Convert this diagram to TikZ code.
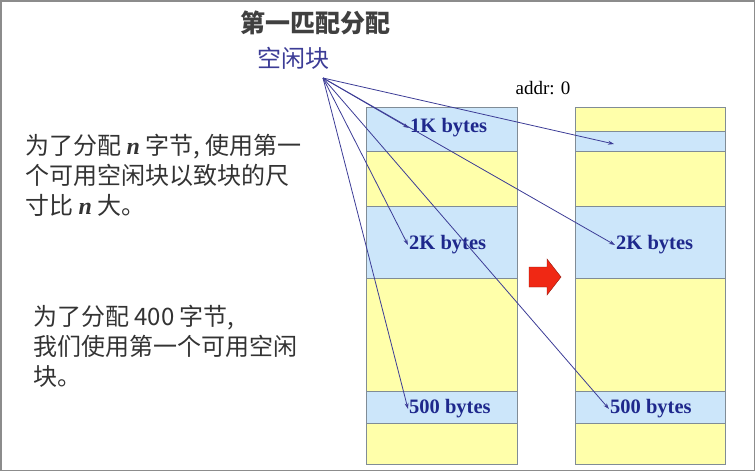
\documentclass[tikz,border=0pt]{standalone}
\usepackage{fontspec}
\setmainfont{Liberation Serif}
\newfontfamily\cjk{Noto Sans CJK SC}
\usetikzlibrary{arrows.meta}
\definecolor{memblue}{RGB}{204,230,250}
\definecolor{memyellow}{RGB}{255,255,170}
\definecolor{memline}{RGB}{128,140,150}
\definecolor{lblblue}{RGB}{30,40,140}
\definecolor{ptrblue}{RGB}{60,60,150}
\definecolor{movered}{RGB}{240,40,20}

\begin{document}
\begin{tikzpicture}[x=1pt, y=-1pt,
    seg/.style={draw=memline, line width=1.2pt, inner sep=0pt, anchor=north west},
    freeseg/.style={seg, fill=memblue},
    usedseg/.style={seg, fill=memyellow},
    lbl/.style={text=lblblue, font=\fontsize{20.5}{20.5}\selectfont\bfseries, anchor=west, inner sep=1pt},
    para/.style={anchor=north west, inner sep=0pt, align=left, text=black!80, font=\cjk\fontsize{24}{30}\selectfont},
    ptr/.style={ptrblue, line width=0.8pt, -{Stealth[length=6pt, width=4pt]}}]
    \useasboundingbox (0,0) rectangle (755,471);
    \draw[black!45, line width=1.5pt] (0.75,0.75) rectangle (754.25,470.25);
    \node [text=black!75, font=\cjk\fontsize{25}{25}\selectfont\bfseries] (title) at (315,23) {第一匹配分配};
    \node [text=ptrblue, font=\cjk\fontsize{24}{24}\selectfont] (free) at (293,58) {空闲块};
    \coordinate (src) at (323,78);
    \node [font=\fontsize{19}{19}\selectfont] (addr) at (543,88) {addr: 0};
    \node [para] (rule) at (25,134) {为了分配 {\normalfont\bfseries\itshape n} 字节, 使用第一\\个可用空闲块以致块的尺\\寸比 {\normalfont\bfseries\itshape n} 大。};
    \node [para] (case) at (33,305) {为了分配 400 字节,\\我们使用第一个可用空闲\\块。};
    \node [freeseg, minimum width=151pt, minimum height=44pt] (a1) at (366,107) {};
    \node [usedseg, minimum width=151pt, minimum height=55pt] (a2) at (366,151) {};
    \node [freeseg, minimum width=151pt, minimum height=72pt] (a3) at (366,206) {};
    \node [usedseg, minimum width=151pt, minimum height=113pt] (a4) at (366,278) {};
    \node [freeseg, minimum width=151pt, minimum height=32pt] (a5) at (366,391) {};
    \node [usedseg, minimum width=151pt, minimum height=41pt] (a6) at (366,423) {};
    \node [usedseg, minimum width=150pt, minimum height=24pt] (b0) at (575,107) {};
    \node [freeseg, minimum width=150pt, minimum height=20pt] (b1) at (575,131) {};
    \node [usedseg, minimum width=150pt, minimum height=55pt] (b2) at (575,151) {};
    \node [freeseg, minimum width=150pt, minimum height=72pt] (b3) at (575,206) {};
    \node [usedseg, minimum width=150pt, minimum height=113pt] (b4) at (575,278) {};
    \node [freeseg, minimum width=150pt, minimum height=32pt] (b5) at (575,391) {};
    \node [usedseg, minimum width=150pt, minimum height=41pt] (b6) at (575,423) {};
    \node [lbl] (k1) at (409,128) {1K bytes};
    \node [lbl] (k2a) at (408,245) {2K bytes};
    \node [lbl] (k2b) at (615,245) {2K bytes};
    \node [lbl] (k5a) at (408,409) {500 bytes};
    \node [lbl] (k5b) at (609,409) {500 bytes};
    \coordinate (rest) at (614,144);
    \draw [draw=movered!60!black, fill=movered] (529,267) -- (547,267) -- (547,259) -- (561,277) -- (547,295) -- (547,287) -- (529,287) -- cycle;
    \draw [ptr] (src) -- (k1.west);
    \draw [ptr] (src) -- (rest);
    \draw [ptr] (src) -- (k2a.west);
    \draw [ptr] (src) -- (k2b.west);
    \draw [ptr] (src) -- (k5a.west);
    \draw [ptr] (src) -- (k5b.west);
\end{tikzpicture}
\end{document}
